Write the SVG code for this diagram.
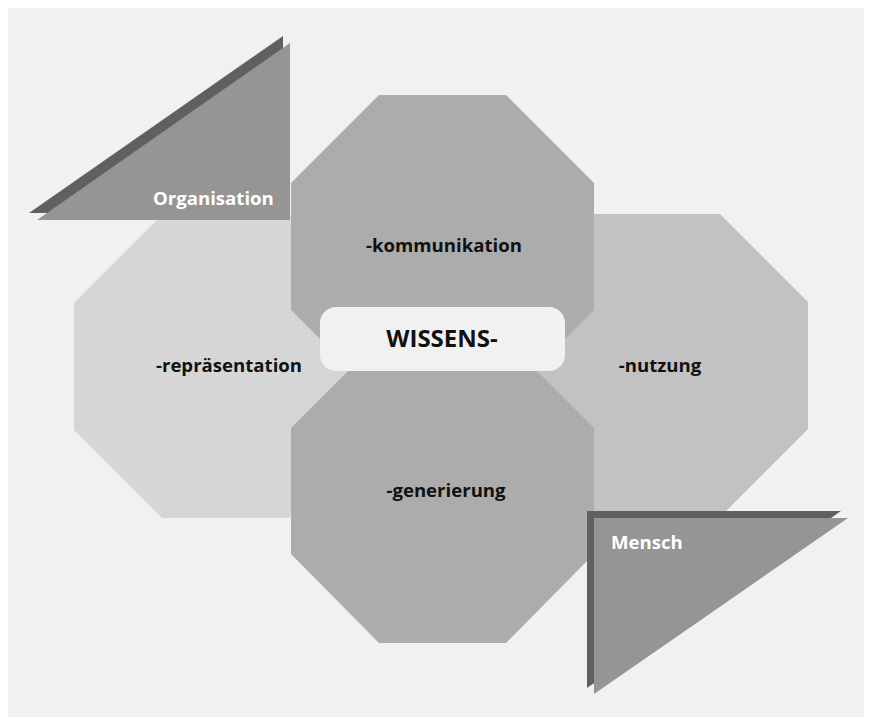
<svg xmlns="http://www.w3.org/2000/svg" width="871" height="725" viewBox="0 0 871 725">
  <style>
    .label { font-family: "Open Sans", "Liberation Sans", sans-serif; font-weight: bold; font-size: 18.6px; fill: #111111; text-anchor: middle; }
    .tri-label { font-family: "Open Sans", "Liberation Sans", sans-serif; font-weight: bold; font-size: 18.6px; fill: #ffffff; }
    .center-label { font-family: "Open Sans", "Liberation Sans", sans-serif; font-weight: bold; font-size: 24px; fill: #111111; text-anchor: middle; }
    .oct-back-left { fill: #d6d6d6; }
    .oct-back-right { fill: #c2c2c2; }
    .oct-front { fill: #acacac; }
    .tri-shadow { fill: #606060; }
    .tri-main { fill: #959595; }
  </style>

  <!-- canvas -->
  <rect x="0" y="0" width="871" height="725" fill="#ffffff"/>
  <rect x="8" y="8" width="856" height="709" fill="#f1f1f1"/>

  <!-- back octagons -->
  <g id="repraesentation">
    <polygon class="oct-back-left" points="162,215 289,215 377,303 377,430 289,518 162,518 74,430 74,303"/>
    <text class="label" x="229" y="372">-repräsentation</text>
  </g>
  <g id="nutzung">
    <polygon class="oct-back-right" points="593,214 720,214 808,302 808,429 720,517 593,517 505,429 505,302"/>
    <text class="label" x="660" y="372">-nutzung</text>
  </g>

  <!-- front octagons -->
  <g id="kommunikation">
    <polygon class="oct-front" points="379,95 506,95 594,183 594,310 506,398 379,398 291,310 291,183"/>
    <text class="label" x="444" y="252">-kommunikation</text>
  </g>
  <g id="generierung">
    <polygon class="oct-front" points="379,340 506,340 594,428 594,554 506,643 379,643 291,554 291,428"/>
    <text class="label" x="446" y="497">-generierung</text>
  </g>

  <!-- corner triangles -->
  <g id="organisation">
    <polygon class="tri-shadow" points="283,36 283,213 29,213"/>
    <polygon class="tri-main" points="290,43 290,220 37,220"/>
    <text class="tri-label" x="153" y="205">Organisation</text>
  </g>
  <g id="mensch">
    <polygon class="tri-shadow" points="587,511 841,511 587,688"/>
    <polygon class="tri-main" points="594,518 848,518 594,694"/>
    <text class="tri-label" x="611" y="549">Mensch</text>
  </g>

  <!-- centre -->
  <g id="wissens">
    <rect x="320" y="307" width="245" height="64" rx="16" ry="16" fill="#f1f1f1"/>
    <text class="center-label" x="442" y="347">WISSENS-</text>
  </g>

  <g id="connectors"></g>
</svg>
